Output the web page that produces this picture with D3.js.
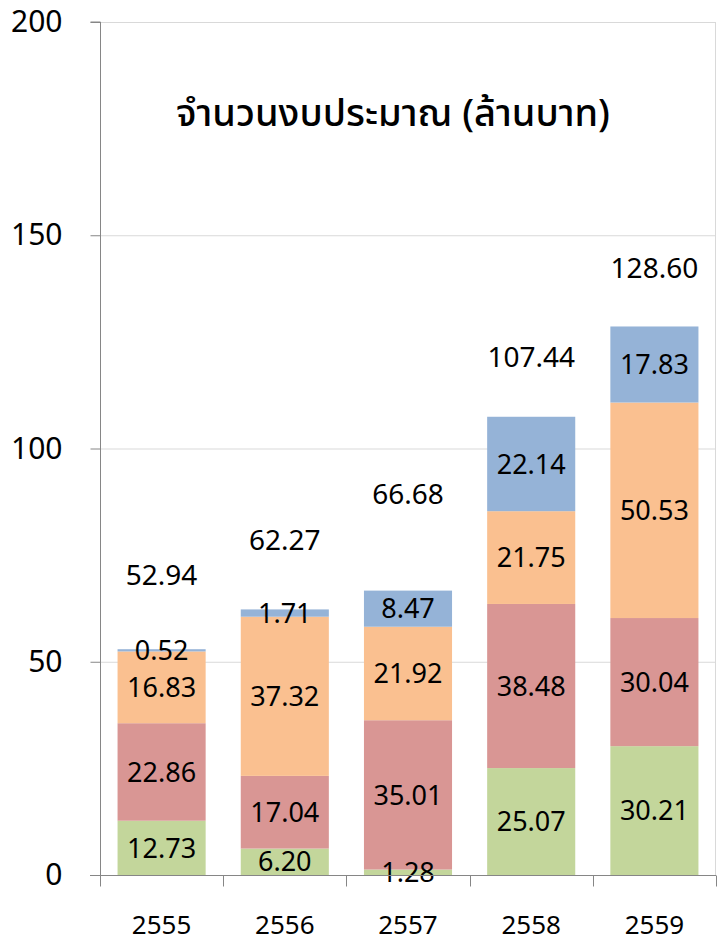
<!DOCTYPE html>
<html>
<head>
<meta charset="utf-8">
<script src="https://cdn.jsdelivr.net/npm/d3@7"></script>
<style>
  html, body { margin: 0; padding: 0; background: #fff; }
  svg text { font-family: 'Noto Sans', 'Noto Sans Thai', 'DejaVu Sans', sans-serif; fill: #000; }
</style>
</head>
<body>
<div id="chart"></div>
<script>
const years = ['2555', '2556', '2557', '2558', '2559'];
const seriesNames = ['s1', 's2', 's3', 's4'];
const s1 = [12.73, 6.2, 1.28, 25.07, 30.21];
const s2 = [22.86, 17.04, 35.01, 38.48, 30.04];
const s3 = [16.83, 37.32, 21.92, 21.75, 50.53];
const s4 = [0.52, 1.71, 8.47, 22.14, 17.83];
const totals = ['52.94', '62.27', '66.68', '107.44', '128.60'];
const yTicks = [0, 50, 100, 150, 200];
const title = 'จำนวนงบประมาณ (ล้านบาท)';

const colors = ['#c3d69b', '#d99694', '#fac090', '#95b3d7'];

const width = 718;
const height = 942;
const margin = { top: 22, right: 2, bottom: 67, left: 100 };

const rows = years.map((y, i) => ({
  year: y,
  s1: s1[i],
  s2: s2[i],
  s3: s3[i],
  s4: s4[i],
}));

const stacked = d3.stack().keys(seriesNames)(rows);

const svg = d3
  .select('#chart')
  .append('svg')
  .attr('width', width)
  .attr('height', height);

const xScale = d3
  .scaleBand()
  .domain(years)
  .range([margin.left, width - margin.right])
  .paddingInner(0.285)
  .paddingOuter(0.1425);

const yScale = d3
  .scaleLinear()
  .domain([0, 200])
  .range([height - margin.bottom, margin.top]);

// gridlines + right border
svg
  .append('g')
  .selectAll('line')
  .data(yTicks.filter((d) => d > 0))
  .join('line')
  .attr('x1', margin.left)
  .attr('x2', width - margin.right)
  .attr('y1', (d) => yScale(d) + 0.5)
  .attr('y2', (d) => yScale(d) + 0.5)
  .attr('stroke', '#d9d9d9');

svg
  .append('line')
  .attr('x1', width - margin.right - 0.5)
  .attr('x2', width - margin.right - 0.5)
  .attr('y1', margin.top)
  .attr('y2', height - margin.bottom)
  .attr('stroke', '#d9d9d9');

// bars
const bars = svg.append('g');
stacked.forEach((layer, k) => {
  bars
    .append('g')
    .attr('fill', colors[k])
    .selectAll('rect')
    .data(layer)
    .join('rect')
    .attr('x', (d) => xScale(d.data.year))
    .attr('width', xScale.bandwidth())
    .attr('y', (d) => yScale(d[1]))
    .attr('height', (d) => yScale(d[0]) - yScale(d[1]));
});

// segment labels
stacked.forEach((layer) => {
  bars
    .append('g')
    .selectAll('text')
    .data(layer)
    .join('text')
    .attr('x', (d) => xScale(d.data.year) + xScale.bandwidth() / 2)
    .attr('y', (d) => yScale((d[0] + d[1]) / 2))
    .attr('dy', '0.36em')
    .attr('text-anchor', 'middle')
    .style('font-size', '27px')
    .text((d) => (d[1] - d[0]).toFixed(2));
});

// total labels (placed as in the original, above each bar)
const totalLabelAt = [70.3, 78.5, 89.3, 121.5, 142.3];
svg
  .append('g')
  .selectAll('text')
  .data(totals)
  .join('text')
  .attr('x', (d, i) => xScale(years[i]) + xScale.bandwidth() / 2)
  .attr('y', (d, i) => yScale(totalLabelAt[i]))
  .attr('dy', '0.36em')
  .attr('text-anchor', 'middle')
  .style('font-size', '28px')
  .text((d) => d);

// y axis
const yAxis = svg
  .append('g')
  .attr('transform', `translate(${margin.left + 0.5},0)`)
  .call(d3.axisLeft(yScale).tickValues(yTicks).tickSize(10).tickPadding(28));
yAxis.selectAll('path, line').attr('stroke', '#868686');
yAxis.select('.domain').attr('d', `M-10,${yScale(200)}H0V${yScale(0)}`);
yAxis
  .selectAll('text')
  .style('font-size', '30px')
  .style('font-family', "'Noto Sans', sans-serif");

// x axis
const xAxisY = yScale(0) + 0.5;
const step = xScale.step();
const boundaries = years.map((y) => xScale(y) - (step - xScale.bandwidth()) / 2);
boundaries.push(width - margin.right);

const xAxis = svg.append('g');
xAxis
  .append('line')
  .attr('x1', margin.left - 10)
  .attr('x2', width - margin.right)
  .attr('y1', xAxisY)
  .attr('y2', xAxisY)
  .attr('stroke', '#868686');
xAxis
  .selectAll('.tick')
  .data(boundaries)
  .join('line')
  .attr('class', 'tick')
  .attr('x1', (d) => Math.round(d) + 0.5)
  .attr('x2', (d) => Math.round(d) + 0.5)
  .attr('y1', xAxisY)
  .attr('y2', xAxisY + 11)
  .attr('stroke', '#868686');
xAxis
  .selectAll('text')
  .data(years)
  .join('text')
  .attr('x', (d) => xScale(d) + xScale.bandwidth() / 2)
  .attr('y', 934)
  .attr('text-anchor', 'middle')
  .style('font-size', '26px')
  .text((d) => d);

// title
svg
  .append('text')
  .attr('x', 393)
  .attr('y', 126)
  .attr('text-anchor', 'middle')
  .style('font-size', '38px')
  .style('font-weight', 500)
  .text(title);
</script>
</body>
</html>
